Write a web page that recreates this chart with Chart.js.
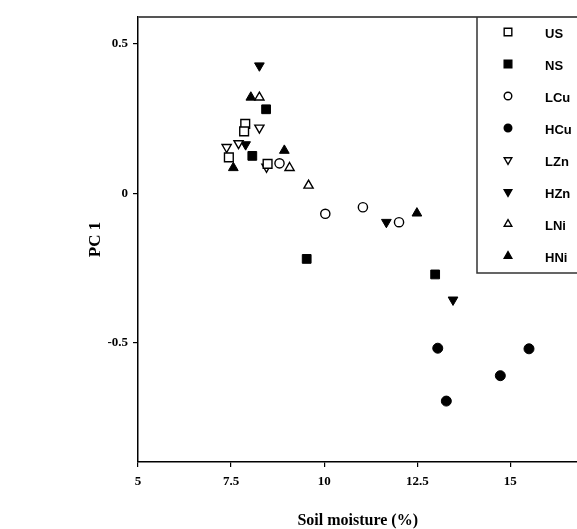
<!DOCTYPE html>
<html><head><meta charset="utf-8">
<script src="https://cdn.jsdelivr.net/npm/chart.js@4/dist/chart.umd.min.js"></script>
<style>html,body{margin:0;padding:0;background:#fff;overflow:hidden;}#wrap{width:577px;height:529px;overflow:hidden;}</style>
</head><body><div id="wrap"><canvas id="c" width="585" height="529"></canvas></div>
<script>
const seriesNames = ["US","NS","LCu","HCu","LZn","HZn","LNi","HNi"];
const usX = [7.88, 7.85, 7.44, 8.48];      const usY = [0.232, 0.207, 0.120, 0.098];
const nsX = [8.44, 8.07, 9.53, 12.98];     const nsY = [0.281, 0.125, -0.220, -0.272];
const lcuX = [8.80, 10.03, 11.04, 12.01];  const lcuY = [0.100, -0.069, -0.047, -0.097];
const hcuX = [13.05, 15.50, 14.73, 13.28]; const hcuY = [-0.519, -0.521, -0.611, -0.696];
const lznX = [8.45, 8.26, 7.38, 7.70];     const lznY = [0.088, 0.219, 0.154, 0.167];
const hznX = [8.26, 7.89, 11.67, 13.46];   const hznY = [0.427, 0.163, -0.097, -0.357];
const lniX = [8.26, 9.07, 9.58];           const lniY = [0.321, 0.085, 0.026];
const hniX = [8.03, 8.93, 7.56, 12.49];    const hniY = [0.321, 0.143, 0.085, -0.067];
const xTicks = [5, 7.5, 10, 12.5, 15];
const yTicks = [-0.5, 0, 0.5];

const styles = [
  {ps:'rect', fill:false, r:6.2, rot:0},
  {ps:'rect', fill:true, r:6.2, rot:0},
  {ps:'circle', fill:false, r:4.6, rot:0},
  {ps:'circle', fill:true, r:5, rot:0},
  {ps:'triangle', fill:false, r:5.3, rot:180},
  {ps:'triangle', fill:true, r:5.6, rot:180},
  {ps:'triangle', fill:false, r:5.3, rot:0},
  {ps:'triangle', fill:true, r:5.6, rot:0}
];
const xs = [usX,nsX,lcuX,hcuX,lznX,hznX,lniX,hniX];
const ys = [usY,nsY,lcuY,hcuY,lznY,hznY,lniY,hniY];

const datasets = seriesNames.map((n,i)=>({
  label:n,
  data: xs[i].map((x,j)=>({x:x,y:ys[i][j]})),
  pointStyle: styles[i].ps,
  pointRotation: styles[i].rot,
  pointRadius: styles[i].r,
  pointBackgroundColor: styles[i].fill ? '#000' : '#fff',
  pointBorderColor:'#000',
  pointBorderWidth: styles[i].fill ? 1 : 1.4,
  showLine:false
}));

function drawMarker(ctx, st, x, y, r){
  ctx.save();
  ctx.fillStyle = st.fill ? '#000' : '#fff';
  ctx.strokeStyle = '#000';
  ctx.lineWidth = 1.4;
  ctx.beginPath();
  if (st.ps === 'rect'){
    const h = r*Math.SQRT1_2;
    ctx.rect(x-h, y-h, 2*h, 2*h);
  } else if (st.ps === 'circle'){
    ctx.arc(x, y, r, 0, Math.PI*2);
  } else {
    const s = st.rot ? -1 : 1;
    const a = Math.PI/6;
    ctx.moveTo(x, y - s*r);
    ctx.lineTo(x + Math.cos(a)*r, y + s*Math.sin(a)*r);
    ctx.lineTo(x - Math.cos(a)*r, y + s*Math.sin(a)*r);
    ctx.closePath();
  }
  ctx.fill(); ctx.stroke();
  ctx.restore();
}

const frameLegend = {
  id:'frameLegend',
  afterDatasetsDraw(chart){
    const ctx = chart.ctx, a = chart.chartArea;
    ctx.save();
    ctx.strokeStyle = '#555'; ctx.lineWidth = 2;
    ctx.beginPath(); ctx.moveTo(a.left, a.top); ctx.lineTo(a.right+10, a.top); ctx.stroke();
    const lx = 477, by = 273;
    ctx.strokeStyle = '#333'; ctx.lineWidth = 1.5;
    ctx.beginPath(); ctx.moveTo(lx, a.top); ctx.lineTo(lx, by); ctx.lineTo(a.right+10, by); ctx.stroke();
    ctx.font = 'bold 13px "Liberation Sans", Arial, sans-serif';
    ctx.textBaseline = 'middle'; ctx.textAlign = 'left';
    chart.data.datasets.forEach((ds,i)=>{
      const yy = 32 + i*32;
      drawMarker(ctx, styles[i], 508, yy, styles[i].ps==='rect'?5.4:(styles[i].ps==='circle'?3.8:4.4));
      ctx.fillStyle = '#000';
      ctx.fillText(ds.label, 545, yy+2);
    });
    ctx.restore();
  }
};

new Chart(document.getElementById('c'), {
  type:'scatter',
  data:{datasets},
  options:{
    responsive:false, animation:false, devicePixelRatio:1,
    layout:{padding:{top:17, right:0, left:0, bottom:0}},
    plugins:{legend:{display:false}, tooltip:{enabled:false}},
    scales:{
      x:{
        type:'linear', min:5, max:16.8,
        afterBuildTicks(s){ s.ticks = xTicks.map(v=>({value:v})); },
        afterFit(s){ s.height = 67; },
        grid:{drawOnChartArea:false, drawTicks:true, tickLength:5, color:'#000', lineWidth:1.2},
        border:{display:true, color:'#000', width:1.5},
        ticks:{color:'#000', padding:7, maxRotation:0, autoSkip:false,
          font:{family:'"Liberation Serif", "Times New Roman", serif', size:13, weight:'bold'},
          callback:v=>String(v)},
        title:{display:true, text:'Soil moisture (%)', color:'#000', padding:{top:0,bottom:-1},
          font:{family:'"Liberation Serif", "Times New Roman", serif', size:16, weight:'bold'}}
      },
      y:{
        type:'linear', min:-0.9, max:0.59,
        afterBuildTicks(s){ s.ticks = yTicks.map(v=>({value:v})); },
        afterFit(s){ s.width = 138; },
        grid:{drawOnChartArea:false, drawTicks:true, tickLength:5, color:'#000', lineWidth:1.2},
        border:{display:true, color:'#000', width:1.5},
        ticks:{color:'#000', padding:5, autoSkip:false,
          font:{family:'"Liberation Serif", "Times New Roman", serif', size:13, weight:'bold'},
          callback:v=>String(v)},
        title:{display:true, text:'PC 1', color:'#000', padding:{top:85,bottom:0},
          font:{family:'"Liberation Serif", "Times New Roman", serif', size:17, weight:'bold'}}
      }
    }
  },
  plugins:[frameLegend]
});
</script></body></html>
